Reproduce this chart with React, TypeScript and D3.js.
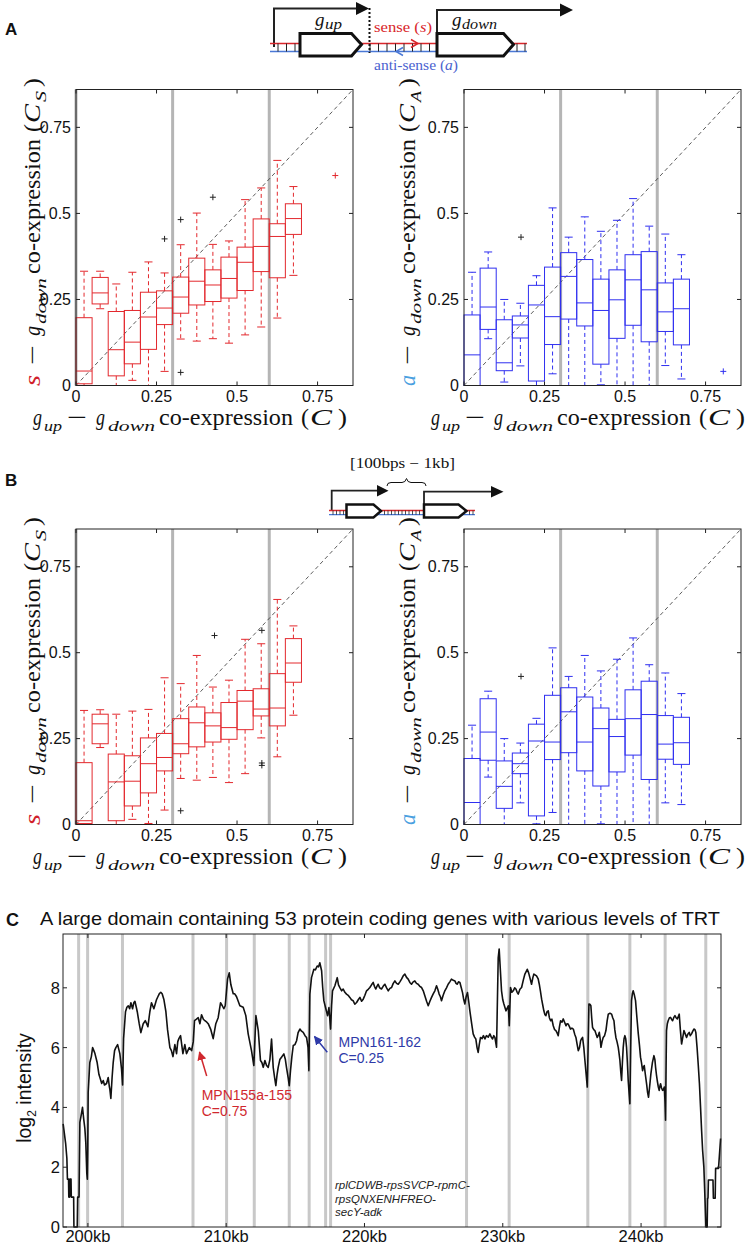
import React from 'react';
import * as d3 from 'd3';

// ---------- DATA ----------
const binCenters = [0.025, 0.075, 0.125, 0.175, 0.225, 0.275, 0.325, 0.375, 0.425, 0.475, 0.525, 0.575, 0.625, 0.675];
const thresholds = [0.3, 0.6];
const axisTicks = [0, 0.25, 0.5, 0.75];
const axisTickLabels = ['0', '0.25', '0.5', '0.75'];

// each row: [lower whisker, Q1, median, Q3, upper whisker]
const aSense = [
  [0, 0.005, 0.042, 0.197, 0.332],
  [0.223, 0.237, 0.269, 0.314, 0.332],
  [0, 0.028, 0.104, 0.215, 0.295],
  [0.015, 0.063, 0.126, 0.218, 0.329],
  [0, 0.105, 0.199, 0.271, 0.359],
  [0.041, 0.177, 0.225, 0.275, 0.327],
  [0.135, 0.21, 0.257, 0.315, 0.409],
  [0.129, 0.234, 0.303, 0.37, 0.501],
  [0.136, 0.244, 0.292, 0.336, 0.41],
  [0.123, 0.254, 0.311, 0.373, 0.42],
  [0.147, 0.276, 0.358, 0.402, 0.54],
  [0.17, 0.331, 0.404, 0.484, 0.574],
  [0.196, 0.313, 0.433, 0.47, 0.654],
  [0.32, 0.439, 0.485, 0.528, 0.578],
];
const aSenseOutliers = [[0.275, 0.426], [0.325, 0.482], [0.325, 0.038], [0.425, 0.547]];
const aSenseExtra = [[0.805, 0.61]];

const aAnti = [
  [0, 0, 0.089, 0.205, 0.329],
  [0.136, 0.163, 0.228, 0.341, 0.388],
  [0.01, 0.043, 0.066, 0.191, 0.25],
  [0.057, 0.138, 0.176, 0.202, 0.239],
  [0, 0.013, 0.234, 0.291, 0.319],
  [0.034, 0.119, 0.2, 0.344, 0.516],
  [0, 0.193, 0.317, 0.386, 0.431],
  [0, 0.173, 0.24, 0.366, 0.49],
  [0.002, 0.062, 0.218, 0.309, 0.448],
  [0, 0.137, 0.249, 0.336, 0.48],
  [0, 0.175, 0.307, 0.38, 0.543],
  [0, 0.127, 0.278, 0.389, 0.463],
  [0.058, 0.157, 0.214, 0.298, 0.44],
  [0.019, 0.118, 0.223, 0.309, 0.38],
];
const aAntiOutliers = [[0.177, 0.431]];
const aAntiExtra = [[0.805, 0.041]];

const bSense = [
  [0, 0.003, 0.011, 0.18, 0.332],
  [0.224, 0.235, 0.293, 0.321, 0.334],
  [0, 0.011, 0.124, 0.205, 0.321],
  [0.015, 0.054, 0.126, 0.2, 0.33],
  [0.003, 0.092, 0.177, 0.252, 0.335],
  [0.042, 0.156, 0.195, 0.265, 0.427],
  [0.134, 0.206, 0.235, 0.308, 0.41],
  [0.129, 0.226, 0.296, 0.342, 0.492],
  [0.137, 0.24, 0.287, 0.325, 0.4],
  [0.122, 0.248, 0.282, 0.355, 0.42],
  [0.148, 0.276, 0.359, 0.39, 0.539],
  [0.252, 0.316, 0.336, 0.395, 0.526],
  [0.197, 0.287, 0.339, 0.439, 0.655],
  [0.318, 0.414, 0.47, 0.541, 0.578],
];
const bSenseOutliers = [[0.325, 0.04], [0.43, 0.55], [0.577, 0.565], [0.577, 0.172], [0.577, 0.179]];
const bSenseExtra: number[][] = [];

const bAnti = [
  [0, 0, 0.064, 0.192, 0.289],
  [0.138, 0.187, 0.269, 0.366, 0.388],
  [0, 0.047, 0.111, 0.185, 0.25],
  [0.063, 0.148, 0.177, 0.208, 0.237],
  [0.002, 0.025, 0.243, 0.292, 0.309],
  [0.035, 0.189, 0.24, 0.376, 0.514],
  [0, 0.209, 0.328, 0.398, 0.431],
  [0, 0.156, 0.24, 0.371, 0.492],
  [0.002, 0.112, 0.279, 0.339, 0.447],
  [0, 0.153, 0.256, 0.306, 0.481],
  [0, 0.202, 0.308, 0.392, 0.543],
  [0, 0.131, 0.32, 0.417, 0.465],
  [0.063, 0.19, 0.234, 0.317, 0.441],
  [0.058, 0.175, 0.238, 0.312, 0.381],
];
const bAntiOutliers = [[0.177, 0.431]];
const bAntiExtra: number[][] = [];

// Panel C: genomic position (kb) and log2 intensity
const trtKb = [
  198.21, 198.39, 198.48, 198.52, 198.6, 198.62, 198.68, 198.7, 198.78, 198.8, 198.97, 198.99, 199.23, 199.26, 199.36,
  199.42, 199.5, 199.61, 199.7, 199.78, 199.85, 199.92, 199.96, 199.99, 200.02, 200.14, 200.25, 200.34, 200.43, 200.51,
  200.67, 200.8, 200.87, 201.0, 201.11, 201.2, 201.35, 201.47, 201.55, 201.59, 201.66, 201.75, 201.83, 201.93, 202.02,
  202.15, 202.31, 202.43, 202.51, 202.58, 202.72, 202.82, 202.92, 203.02, 203.11, 203.23, 203.32, 203.4, 203.5, 203.57,
  203.71, 203.83, 204.0, 204.15, 204.25, 204.34, 204.48, 204.6, 204.77, 204.96, 205.06, 205.16, 205.27, 205.37, 205.5,
  205.64, 205.76, 205.93, 206.04, 206.15, 206.29, 206.41, 206.5, 206.58, 206.7, 206.87, 207.01, 207.13, 207.33, 207.5,
  207.62, 207.71, 207.85, 207.98, 208.1, 208.22, 208.35, 208.46, 208.6, 208.7, 208.89, 209.06, 209.25, 209.42, 209.59,
  209.72, 209.83, 209.93, 210.1, 210.22, 210.34, 210.51, 210.62, 210.75, 210.99, 211.23, 211.42, 211.59, 211.83, 212.0,
  212.08, 212.15, 212.32, 212.48, 212.58, 212.68, 212.8, 212.92, 213.04, 213.16, 213.28, 213.4, 213.5, 213.59, 213.68,
  213.76, 213.88, 214.0, 214.17, 214.28, 214.36, 214.48, 214.56, 214.65, 214.75, 214.85, 214.97, 215.09, 215.2, 215.33,
  215.45, 215.57, 215.7, 215.81, 215.92, 215.98, 216.05, 216.17, 216.34, 216.45, 216.58, 216.68, 216.77, 216.9, 216.98,
  217.06, 217.21, 217.33, 217.43, 217.55, 217.62, 217.69, 217.86, 218.03, 218.12, 218.22, 218.35, 218.46, 218.58, 218.7,
  218.82, 218.94, 219.06, 219.18, 219.3, 219.43, 219.55, 219.67, 219.79, 219.91, 220.03, 220.15, 220.27, 220.39, 220.51,
  220.63, 220.72, 220.82, 220.9, 220.99, 221.1, 221.23, 221.35, 221.47, 221.6, 221.72, 221.84, 221.96, 222.08, 222.2,
  222.32, 222.44, 222.56, 222.68, 222.8, 222.92, 223.04, 223.16, 223.28, 223.4, 223.52, 223.64, 223.76, 223.88, 224.0,
  224.13, 224.25, 224.37, 224.49, 224.61, 224.73, 224.85, 224.97, 225.09, 225.21, 225.3, 225.4, 225.49, 225.57, 225.69,
  225.81, 225.93, 226.05, 226.17, 226.29, 226.42, 226.54, 226.62, 226.7, 226.8, 226.9, 227.0, 227.09, 227.18, 227.26,
  227.35, 227.45, 227.55, 227.62, 227.75, 227.86, 227.96, 228.05, 228.14, 228.22, 228.3, 228.39, 228.5, 228.6, 228.71,
  228.82, 228.95, 229.07, 229.17, 229.26, 229.35, 229.43, 229.55, 229.67, 229.74, 229.8, 229.91, 230.0, 230.08, 230.23,
  230.4, 230.47, 230.56, 230.66, 230.76, 230.86, 230.95, 231.04, 231.12, 231.24, 231.36, 231.48, 231.6, 231.77, 231.87,
  231.96, 232.08, 232.18, 232.25, 232.44, 232.56, 232.64, 232.72, 232.81, 232.9, 232.97, 233.05, 233.12, 233.2, 233.29,
  233.37, 233.46, 233.55, 233.65, 233.75, 233.84, 233.92, 234.01, 234.1, 234.18, 234.28, 234.37, 234.47, 234.57, 234.65,
  234.73, 234.82, 234.9, 235.0, 235.1, 235.2, 235.29, 235.38, 235.46, 235.55, 235.63, 235.7, 235.77, 235.86, 235.94,
  236.03, 236.11, 236.17, 236.23, 236.3, 236.37, 236.43, 236.49, 236.58, 236.66, 236.75, 236.83, 236.9, 236.98, 237.04,
  237.1, 237.18, 237.26, 237.36, 237.46, 237.55, 237.63, 237.75, 237.87, 237.95, 238.04, 238.1, 238.18, 238.26, 238.35,
  238.41, 238.47, 238.53, 238.59, 238.65, 238.71, 238.77, 238.83, 238.89, 238.95, 239.01, 239.07, 239.13, 239.19, 239.25,
  239.31, 239.37, 239.43, 239.52, 239.6, 239.7, 239.8, 239.88, 239.96, 240.03, 240.11, 240.17, 240.23, 240.31, 240.4,
  240.47, 240.54, 240.62, 240.71, 240.82, 240.93, 241.0, 241.05, 241.11, 241.17, 241.24, 241.31, 241.36, 241.41, 241.48,
  241.56, 241.62, 241.68, 241.73, 241.77, 241.8, 241.84, 241.9, 241.96, 242.05, 242.13, 242.2, 242.28, 242.36, 242.45,
  242.53, 242.62, 242.7, 242.76, 242.84, 242.93, 243.0, 243.1, 243.2, 243.29, 243.38, 243.48, 243.56, 243.65, 243.74,
  243.82, 243.9, 243.96, 244.05, 244.13, 244.22, 244.3, 244.38, 244.45, 244.54, 244.58, 244.62, 244.69, 244.78, 244.81,
  244.84, 244.87, 245.2, 245.23, 245.36, 245.39, 245.6, 245.75,
];
const trtLog2 = [
  3.45, 2.8, 2.3, 1.6, 1.6, 1.0, 1.0, 1.6, 1.6, 1.0, 1.0, 0, 0, 1.0, 1.0,
  3.5, 3.7, 4.0, 3.6, 3.3, 2.8, 1.8, 1.6, 2.6, 4.5, 5.5, 5.7, 6.0, 5.9, 5.8,
  5.5, 5.1, 5.0, 4.8, 4.9, 4.75, 4.8, 5.0, 4.7, 4.6, 4.3, 5.0, 5.5, 5.9, 6.0,
  6.1, 5.8, 5.3, 4.75, 6.3, 7.2, 7.35, 7.4, 7.3, 7.5, 7.3, 7.5, 7.55, 7.35, 7.2,
  6.8, 6.5, 6.8, 6.9, 6.8, 6.7, 7.2, 7.5, 7.3, 7.6, 7.7, 7.8, 7.85, 7.8, 7.6,
  7.2, 6.6, 6.0, 5.9, 5.7, 6.1, 5.8, 6.2, 6.3, 6.4, 5.8, 6.1, 5.8, 6.0, 5.9,
  6.2, 6.9, 6.95, 7.0, 6.8, 7.1, 6.95, 6.9, 6.85, 6.8, 6.6, 6.3, 6.8, 7.0, 7.5,
  7.4, 7.3, 7.4, 8.3, 8.5, 8.1, 7.8, 7.8, 7.7, 7.4, 7.35, 7.07, 6.46, 5.9, 5.4,
  6.3, 7.07, 6.57, 5.57, 5.5, 5.34, 5.57, 5.4, 5.34, 5.6, 6.29, 5.34, 5.0, 4.73, 5.1,
  5.34, 5.6, 5.68, 5.79, 5.6, 5.34, 5.0, 4.73, 5.23, 5.7, 6.07, 6.1, 6.23, 6.5, 6.62,
  6.55, 6.51, 6.4, 6.34, 6.0, 5.23, 7.79, 8.34, 8.62, 8.6, 8.73, 8.7, 8.84, 8.57, 8.0,
  7.57, 7.29, 7.07, 7.34, 6.62, 7.4, 7.9, 8.07, 8.34, 8.1, 8.01, 7.9, 7.96, 7.85, 7.79,
  7.75, 7.68, 7.6, 7.57, 7.45, 7.51, 7.6, 7.68, 7.55, 7.62, 7.75, 7.9, 7.95, 8.01, 8.1,
  8.18, 8.05, 7.96, 8.05, 8.12, 8.0, 7.96, 8.05, 8.12, 8.0, 7.9, 7.98, 8.01, 8.15, 8.23,
  8.15, 8.12, 8.2, 8.29, 8.4, 8.46, 8.35, 8.29, 8.18, 8.12, 8.2, 8.23, 8.15, 8.12, 8.05,
  8.01, 7.9, 7.73, 7.55, 7.4, 7.55, 7.68, 7.8, 7.9, 8.07, 7.95, 7.79, 7.7, 7.57, 7.75,
  7.9, 8.0, 8.12, 8.2, 8.29, 8.25, 8.23, 8.15, 8.12, 8.2, 8.18, 8.0, 7.84, 7.6, 7.46,
  7.7, 7.84, 7.5, 7.23, 6.8, 6.46, 6.35, 6.29, 6.0, 5.84, 6.1, 6.34, 6.3, 6.4, 6.29,
  6.4, 6.35, 6.46, 6.35, 6.29, 6.4, 6.34, 6.01, 9.0, 9.3, 8.8, 7.9, 7.6, 7.46, 7.23,
  7.4, 6.73, 8.01, 7.85, 7.9, 8.0, 7.96, 7.85, 7.79, 7.95, 8.01, 8.25, 8.46, 8.62, 8.5,
  8.34, 8.12, 8.35, 8.46, 8.4, 8.3, 8.12, 7.9, 7.62, 7.4, 7.23, 7.1, 7.07, 7.2, 7.23,
  7.0, 6.9, 6.95, 6.73, 6.6, 6.57, 6.5, 6.4, 6.7, 6.9, 6.85, 6.96, 6.85, 6.73, 6.8,
  6.79, 6.7, 6.62, 6.65, 6.62, 6.45, 6.34, 6.1, 5.9, 6.0, 6.23, 6.3, 6.34, 6.0, 5.57,
  5.1, 4.68, 6.0, 7.46, 7.45, 7.4, 7.0, 6.68, 6.6, 6.57, 6.45, 6.34, 6.4, 6.51, 6.3,
  6.01, 6.2, 6.34, 6.4, 6.57, 6.9, 7.12, 7.15, 7.12, 7.0, 6.9, 6.6, 6.34, 6.2, 6.01,
  5.8, 5.57, 5.2, 4.9, 5.5, 6.01, 6.3, 6.4, 6.3, 6.01, 5.5, 4.9, 4.5, 4.12, 6.0,
  7.57, 7.8, 7.9, 7.75, 7.57, 7.0, 6.46, 6.1, 5.68, 5.5, 5.23, 5.35, 5.4, 5.1, 4.79,
  4.5, 4.34, 4.7, 5.12, 5.5, 5.73, 5.6, 5.34, 5.1, 4.9, 4.7, 4.57, 4.7, 4.79, 4.65,
  4.57, 4.6, 4.68, 4.2, 3.57, 5.0, 6.57, 6.8, 6.9, 7.0, 7.01, 6.95, 6.9, 7.0, 7.07,
  7.0, 6.96, 7.05, 7.12, 6.6, 6.12, 6.3, 6.57, 6.45, 6.34, 6.45, 6.51, 6.4, 6.46, 6.55,
  6.62, 6.6, 6.51, 6.0, 5.46, 4.8, 4.01, 3.2, 2.57, 2.01, 1.5, 0.96, 0, 0, 0.96,
  0.96, 1.57, 1.57, 0.96, 0.96, 1.96, 1.96, 2.96,
];
const geneBoundariesKb = [199.33, 199.98, 202.5, 207.6, 210.03, 212.03, 214.56, 216.0, 217.19, 217.55, 227.38, 230.46, 236.15, 239.19, 241.74, 244.68];
const cYTicks = [0, 2, 4, 6, 8];
const cXTicks = [200, 210, 220, 230, 240];
const cXTickLabels = ['200kb', '210kb', '220kb', '230kb', '240kb'];

// ---------- STYLE ----------
const RED = '#e3282d';
const BLUE = '#2f2ff0';
const SERIF = '"Liberation Serif", "Times New Roman", serif';
const SANS = '"Liberation Sans", Arial, Helvetica, sans-serif';

type Piece = { t: string; o: number; w: number; it?: boolean; sub?: boolean; color?: string };

function MathPieces({ pieces, size = 23, subSize = 15 }: { pieces: Piece[]; size?: number; subSize?: number }) {
  return (
    <>
      {pieces.map((p, i) => (
        <text
          key={i}
          x={p.o}
          y={p.sub ? 6 : 0}
          fontFamily={SERIF}
          fontSize={p.sub ? subSize : size}
          fontStyle={p.it ? 'italic' : 'normal'}
          fill={p.color || '#111'}
          textLength={p.w}
          lengthAdjust="spacingAndGlyphs"
        >
          {p.t}
        </text>
      ))}
    </>
  );
}

function yPieces(first: string, firstColor: string, subLetter: string): Piece[] {
  return [
    { t: first, o: 0, w: 11, it: true, color: firstColor },
    { t: '\u2212', o: 21, w: 20 },
    { t: 'g', o: 50, w: 10, it: true },
    { t: 'down', o: 62, w: 46, it: true, sub: true },
    { t: 'co-expression', o: 112, w: 135 },
    { t: '(', o: 254, w: 8 },
    { t: 'C', o: 263, w: 19, it: true },
    { t: subLetter, o: 284, w: 11, it: true, sub: true },
    { t: ')', o: 299, w: 9 },
  ];
}
const xPieces: Piece[] = [
  { t: 'g', o: 0, w: 9, it: true },
  { t: 'up', o: 11, w: 18, it: true, sub: true },
  { t: '\u2212', o: 34, w: 20 },
  { t: 'g', o: 63, w: 9, it: true },
  { t: 'down', o: 75, w: 47, it: true, sub: true },
  { t: 'co-expression', o: 126, w: 134 },
  { t: '(', o: 268, w: 8 },
  { t: 'C', o: 277, w: 22, it: true },
  { t: ')', o: 305, w: 9 },
];

function Plus({ cx, cy, color }: { cx: number; cy: number; color: string }) {
  return (
    <g stroke={color} strokeWidth={1}>
      <line x1={cx - 3} x2={cx + 3} y1={cy} y2={cy} />
      <line x1={cx} x2={cx} y1={cy - 3} y2={cy + 3} />
    </g>
  );
}

interface BoxPanelProps {
  left: number; right: number; top: number; bottom: number;
  stats: number[][]; outliers: number[][]; extra: number[][];
  color: string; zeroLine: boolean;
  yFirst: string; yFirstColor: string; ySub: string; yLabelBase: number; xLabelX: number; xLabelBase: number;
}

function BoxPanel(props: BoxPanelProps) {
  const { left, right, top, bottom, stats, outliers, extra, color, zeroLine } = props;
  const x = d3.scaleLinear().domain([0, 0.86]).range([left, right]);
  const y = d3.scaleLinear().domain([0, 0.86]).range([bottom, top]);
  const half = 0.025;
  const capHalf = 0.0125;
  const grayLines = zeroLine ? [0, ...thresholds] : thresholds;
  const diag = d3.line<number>().x((d) => x(d)).y((d) => y(d));
  return (
    <g>
      {grayLines.map((v) => (
        <line key={v} x1={x(v)} x2={x(v)} y1={top} y2={bottom} stroke="#b5b5b5" strokeWidth={3} />
      ))}
      <path d={diag([0, 0.86]) || ''} stroke="#333" strokeWidth={0.8} strokeDasharray="4,3" fill="none" />
      {stats.map((s, i) => {
        const c = binCenters[i];
        const [lo, q1, med, q3, hi] = s;
        return (
          <g key={i} stroke={color} fill="none" strokeWidth={1}>
            <line x1={x(c)} x2={x(c)} y1={y(q3)} y2={y(hi)} strokeDasharray="4,3" />
            <line x1={x(c)} x2={x(c)} y1={y(q1)} y2={y(lo)} strokeDasharray="4,3" />
            <line x1={x(c - capHalf)} x2={x(c + capHalf)} y1={y(hi)} y2={y(hi)} />
            <line x1={x(c - capHalf)} x2={x(c + capHalf)} y1={y(lo)} y2={y(lo)} />
            <rect x={x(c - half)} y={y(q3)} width={x(c + half) - x(c - half)} height={y(q1) - y(q3)} />
            <line x1={x(c - half)} x2={x(c + half)} y1={y(med)} y2={y(med)} />
          </g>
        );
      })}
      {outliers.map((o, i) => (
        <Plus key={'o' + i} cx={x(o[0])} cy={y(o[1])} color="#222" />
      ))}
      {extra.map((o, i) => (
        <Plus key={'e' + i} cx={x(o[0])} cy={y(o[1])} color={color} />
      ))}
      <rect x={left} y={top} width={right - left} height={bottom - top} fill="none" stroke="#222" strokeWidth={1} />
      {axisTicks.map((t, i) => (
        <g key={'t' + i} stroke="#222" strokeWidth={1}>
          <line x1={x(t)} x2={x(t)} y1={bottom} y2={bottom - 4} />
          <line x1={x(t)} x2={x(t)} y1={top} y2={top + 4} />
          <line x1={left} x2={left + 4} y1={y(t)} y2={y(t)} />
          <line x1={right} x2={right - 4} y1={y(t)} y2={y(t)} />
        </g>
      ))}
      {axisTicks.map((t, i) => (
        <text key={'yl' + i} x={left - 5} y={y(t) + 5.5} textAnchor="end" fontFamily={SANS} fontSize={16} fill="#111">
          {axisTickLabels[i]}
        </text>
      ))}
      {axisTicks.map((t, i) => (
        <text key={'xl' + i} x={x(t)} y={bottom + 16} textAnchor="middle" fontFamily={SANS} fontSize={16} fill="#111">
          {axisTickLabels[i]}
        </text>
      ))}
      <g transform={`translate(${props.yLabelBase},${bottom + 0.5}) rotate(-90)`}>
        <MathPieces pieces={yPieces(props.yFirst, props.yFirstColor, props.ySub)} />
      </g>
      <g transform={`translate(${props.xLabelX},${props.xLabelBase})`}>
        <MathPieces pieces={xPieces} />
      </g>
    </g>
  );
}

function DiagramA() {
  const rungs = [278, 286.5, 295, 370, 378.5, 387, 395.5, 404, 412.5, 421, 429.5, 517, 525];
  return (
    <g>
      <path d="M274,47 V8.5 H358" stroke="#222" strokeWidth={2} fill="none" />
      <polygon points="356,2 369,8.5 356,15" fill="#111" />
      <path d="M437,47 V10 H562" stroke="#222" strokeWidth={2} fill="none" />
      <polygon points="560,3.5 573,10 560,16.5" fill="#111" />
      <line x1={270} x2={527} y1={43.5} y2={43.5} stroke="#d9262b" strokeWidth={1.5} />
      <line x1={270} x2={527} y1={51.5} y2={51.5} stroke="#4a78d6" strokeWidth={1.5} />
      {rungs.map((r) => (
        <line key={r} x1={r} x2={r} y1={43.5} y2={51.5} stroke="#222" strokeWidth={1} />
      ))}
      <polyline points="411,39.5 418,43.5 411,47.5" stroke="#d9262b" strokeWidth={1.5} fill="none" />
      <polyline points="403,47.5 396,51.5 403,55.5" stroke="#4a78d6" strokeWidth={1.5} fill="none" />
      <line x1={369.5} x2={369.5} y1={8} y2={53} stroke="#111" strokeWidth={2} strokeDasharray="2,2" />
      <polygon points="300,33.5 351.5,33.5 361.5,44.5 351.5,56 300,56" fill="#fff" stroke="#111" strokeWidth={3} />
      <polygon points="437,33.5 503.5,33.5 513.5,44.5 503.5,56 437,56" fill="#fff" stroke="#111" strokeWidth={3} />
      <text x={315} y={26} fontFamily={SERIF} fontStyle="italic" fontSize={19} fill="#111">g</text>
      <text x={325} y={29} fontFamily={SERIF} fontStyle="italic" fontSize={14} fill="#111" textLength={17} lengthAdjust="spacingAndGlyphs">up</text>
      <text x={452} y={26} fontFamily={SERIF} fontStyle="italic" fontSize={19} fill="#111">g</text>
      <text x={462} y={29} fontFamily={SERIF} fontStyle="italic" fontSize={14} fill="#111" textLength={35} lengthAdjust="spacingAndGlyphs">down</text>
      <text x={374} y={31.5} fontFamily={SERIF} fontSize={15} fill="#d9262b" textLength={58} lengthAdjust="spacingAndGlyphs">
        sense (<tspan fontStyle="italic">s</tspan>)
      </text>
      <text x={374} y={70} fontFamily={SERIF} fontSize={15} fill="#4a62cf" textLength={84} lengthAdjust="spacingAndGlyphs">
        anti-sense (<tspan fontStyle="italic">a</tspan>)
      </text>
    </g>
  );
}

function DiagramB() {
  const rungs = [333, 336.5, 340, 343.5, 384.5, 388, 391.5, 395, 398.5, 402, 405.5, 409, 412.5, 416, 419.5, 469.5, 473];
  return (
    <g>
      <text x={350} y={468} fontFamily={SERIF} fontSize={14} fill="#111" textLength={105} lengthAdjust="spacingAndGlyphs">
        [100bps {'\u2212'} 1kb]
      </text>
      <path d="M387,486 Q387,482.5 391,482.5 L402,482.5 Q405.5,482.5 406.5,478.5 Q407.5,482.5 411,482.5 L422,482.5 Q426,482.5 426,486" stroke="#111" strokeWidth={1} fill="none" />
      <path d="M331.7,511 V490.7 H379" stroke="#222" strokeWidth={1.8} fill="none" />
      <polygon points="377,485 388.5,490.7 377,496.4" fill="#111" />
      <path d="M424,505 V491.7 H492" stroke="#222" strokeWidth={1.8} fill="none" />
      <polygon points="491,486 503.5,491.7 491,497.4" fill="#111" />
      <line x1={329} x2={475} y1={510.5} y2={510.5} stroke="#d9262b" strokeWidth={1.3} />
      <line x1={329} x2={475} y1={514.7} y2={514.7} stroke="#4a78d6" strokeWidth={1.3} />
      {rungs.map((r) => (
        <line key={r} x1={r} x2={r} y1={510.5} y2={514.7} stroke="#222" strokeWidth={0.8} />
      ))}
      <polygon points="346.5,504.5 373.5,504.5 381,511 373.5,517.5 346.5,517.5" fill="#fff" stroke="#111" strokeWidth={2.5} />
      <polygon points="424,504.5 458.5,504.5 466.5,511 458.5,517.5 424,517.5" fill="#fff" stroke="#111" strokeWidth={2.5} />
    </g>
  );
}

function PanelC() {
  const left = 63, right = 721, top = 934, bottom = 1227;
  const x = d3.scaleLinear().domain([198.2, 245.78]).range([left, right]);
  const y = d3.scaleLinear().domain([0, 9.8]).range([bottom, top]);
  const pts = trtKb.map((k, i) => [k, trtLog2[i]] as [number, number]);
  const line = d3.line<[number, number]>().x((d) => x(d[0])).y((d) => y(d[1]));
  return (
    <g>
      <defs>
        <marker id="arrRed" viewBox="0 0 10 10" refX="9" refY="5" markerWidth="6" markerHeight="6" orient="auto">
          <path d="M0,0 L10,5 L0,10 z" fill="#d0282e" />
        </marker>
        <marker id="arrBlue" viewBox="0 0 10 10" refX="9" refY="5" markerWidth="6" markerHeight="6" orient="auto">
          <path d="M0,0 L10,5 L0,10 z" fill="#2e3aa8" />
        </marker>
      </defs>
      <text x={6} y={926} fontFamily={SANS} fontWeight="bold" fontSize={18} fill="#111">C</text>
      <text x={40} y={925} fontFamily={SANS} fontSize={18.5} fill="#111" textLength={680} lengthAdjust="spacingAndGlyphs">
        A large domain containing 53 protein coding genes with various levels of TRT
      </text>
      {geneBoundariesKb.map((k) => (
        <line key={k} x1={x(k)} x2={x(k)} y1={top} y2={bottom} stroke="#c8c8c8" strokeWidth={3} />
      ))}
      <path d={line(pts) || ''} stroke="#111" strokeWidth={1.6} fill="none" strokeLinejoin="round" />
      <rect x={left} y={top} width={right - left} height={bottom - top} fill="none" stroke="#222" strokeWidth={1} />
      {cYTicks.map((t) => (
        <g key={'cy' + t}>
          <line x1={left} x2={left + 4} y1={y(t)} y2={y(t)} stroke="#222" />
          <line x1={right} x2={right - 4} y1={y(t)} y2={y(t)} stroke="#222" />
          <text x={left - 3} y={y(t) + 6} textAnchor="end" fontFamily={SANS} fontSize={16.5} fill="#111">{t}</text>
        </g>
      ))}
      {cXTicks.map((t, i) => (
        <g key={'cx' + t}>
          <line x1={x(t)} x2={x(t)} y1={bottom} y2={bottom - 4} stroke="#222" />
          <line x1={x(t)} x2={x(t)} y1={top} y2={top + 4} stroke="#222" />
          <text x={x(t)} y={1242} textAnchor="middle" fontFamily={SANS} fontSize={16.5} fill="#111">{cXTickLabels[i]}</text>
        </g>
      ))}
      <text transform="translate(31,1088) rotate(-90)" textAnchor="middle" fontFamily={SANS} fontSize={19.5} fill="#111">
        log<tspan fontSize={12} dy={5}>2</tspan><tspan dy={-5}> intensity</tspan>
      </text>
      <line x1={206.7} y1={1076} x2={199.5} y2={1052} stroke="#d0282e" strokeWidth={1.5} markerEnd="url(#arrRed)" />
      <text x={201.7} y={1100} fontFamily={SANS} fontSize={14} fill="#d0282e">MPN155a-155</text>
      <text x={201.7} y={1116} fontFamily={SANS} fontSize={14} fill="#d0282e">C=0.75</text>
      <line x1={327.3} y1={1052.3} x2={314.5} y2={1036.5} stroke="#2e3aa8" strokeWidth={1.5} markerEnd="url(#arrBlue)" />
      <text x={338.5} y={1047} fontFamily={SANS} fontSize={14} fill="#2e3aa8">MPN161-162</text>
      <text x={338.5} y={1063} fontFamily={SANS} fontSize={14} fill="#2e3aa8">C=0.25</text>
      <g fontFamily={SANS} fontStyle="italic" fontSize={11.5} fill="#222">
        <text x={335} y={1189}>rplCDWB-rpsSVCP-rpmC-</text>
        <text x={335} y={1203}>rpsQNXENHFREO-</text>
        <text x={335} y={1216}>secY-adk</text>
      </g>
    </g>
  );
}

export default function App() {
  const LB = '#4aa0e0';
  return (
    <svg width={746} height={1244} style={{ position: 'absolute', left: 0, top: 0, background: '#fff' }}>
      <rect x={0} y={0} width={746} height={1244} fill="#fff" />
      <text x={5} y={35} fontFamily={SANS} fontWeight="bold" fontSize={17} fill="#111">A</text>
      <text x={5} y={486} fontFamily={SANS} fontWeight="bold" fontSize={17} fill="#111">B</text>
      <DiagramA />
      <DiagramB />
      <BoxPanel left={76} right={353} top={89.5} bottom={385.5} stats={aSense} outliers={aSenseOutliers} extra={aSenseExtra}
        color={RED} zeroLine={true} yFirst="s" yFirstColor="#d0202a" ySub="S" yLabelBase={40} xLabelX={33} xLabelBase={425} />
      <BoxPanel left={464} right={741} top={89.5} bottom={385.5} stats={aAnti} outliers={aAntiOutliers} extra={aAntiExtra}
        color={BLUE} zeroLine={false} yFirst="a" yFirstColor={LB} ySub="A" yLabelBase={414.5} xLabelX={431} xLabelBase={425} />
      <BoxPanel left={76} right={353} top={529} bottom={824.5} stats={bSense} outliers={bSenseOutliers} extra={bSenseExtra}
        color={RED} zeroLine={true} yFirst="s" yFirstColor="#d0202a" ySub="S" yLabelBase={40} xLabelX={33} xLabelBase={864} />
      <BoxPanel left={464} right={741} top={529} bottom={824.5} stats={bAnti} outliers={bAntiOutliers} extra={bAntiExtra}
        color={BLUE} zeroLine={false} yFirst="a" yFirstColor={LB} ySub="A" yLabelBase={414.5} xLabelX={431} xLabelBase={864} />
      <PanelC />
    </svg>
  );
}
